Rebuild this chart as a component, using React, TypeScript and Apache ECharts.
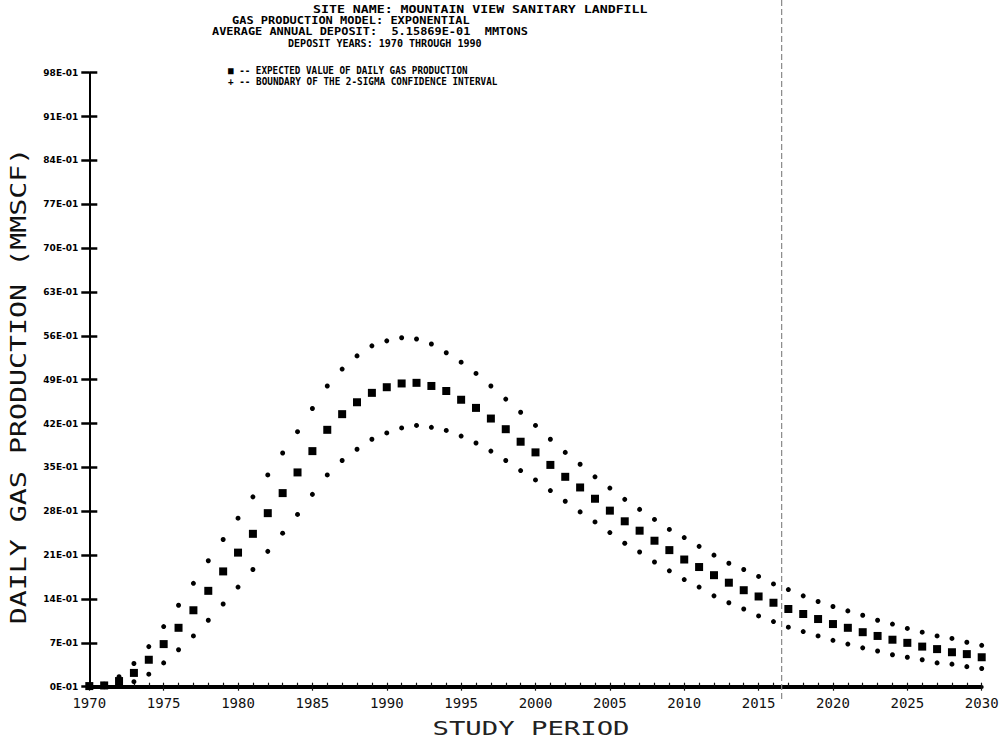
import React, { useEffect, useRef } from "react";
import * as echarts from "echarts";

const years = [
  1970, 1971, 1972, 1973, 1974, 1975, 1976, 1977, 1978, 1979,
  1980, 1981, 1982, 1983, 1984, 1985, 1986, 1987, 1988, 1989,
  1990, 1991, 1992, 1993, 1994, 1995, 1996, 1997, 1998, 1999,
  2000, 2001, 2002, 2003, 2004, 2005, 2006, 2007, 2008, 2009,
  2010, 2011, 2012, 2013, 2014, 2015, 2016, 2017, 2018, 2019,
  2020, 2021, 2022, 2023, 2024, 2025, 2026, 2027, 2028, 2029,
  2030,
];

// values in units of E-01 MMSCF
const expectedValue = [
  0.1, 0.2, 0.9, 2.2, 4.3, 6.8, 9.4, 12.2, 15.3, 18.4,
  21.4, 24.4, 27.7, 30.9, 34.2, 37.6, 41.0, 43.5, 45.4, 46.9,
  47.8, 48.4, 48.5, 48.0, 47.2, 45.8, 44.5, 42.8, 41.1, 39.1,
  37.4, 35.4, 33.5, 31.8, 30.0, 28.1, 26.4, 24.9, 23.3, 21.8,
  20.3, 19.1, 17.8, 16.6, 15.4, 14.4, 13.4, 12.4, 11.6, 10.8,
  10.0, 9.4, 8.7, 8.1, 7.5, 7.0, 6.4, 6.0, 5.5, 5.2,
  4.7,
];

const upperBound = [
  0.2, 0.4, 1.6, 3.7, 6.4, 9.6, 13.0, 16.5, 20.1, 23.5,
  26.9, 30.3, 33.8, 37.3, 40.7, 44.4, 48.0, 50.7, 52.8, 54.4,
  55.2, 55.7, 55.5, 54.7, 53.3, 51.8, 50.0, 48.0, 45.9, 43.8,
  41.7, 39.5, 37.4, 35.5, 33.5, 31.7, 29.9, 28.3, 26.7, 25.1,
  23.8, 22.4, 21.0, 19.7, 18.7, 17.6, 16.4, 15.5, 14.5, 13.6,
  12.8, 12.1, 11.4, 10.6, 10.0, 9.3, 8.7, 8.1, 7.7, 7.1,
  6.6,
];

const lowerBound = [
  0.0, 0.0, 0.2, 0.8, 2.0, 3.8, 5.9, 8.1, 10.6, 13.2,
  15.9, 18.7, 21.6, 24.5, 27.5, 30.7, 33.8, 36.1, 37.9, 39.5,
  40.5, 41.3, 41.7, 41.4, 40.9, 40.0, 38.9, 37.6, 36.1, 34.5,
  33.0, 31.3, 29.6, 27.9, 26.3, 24.6, 22.9, 21.5, 19.9, 18.5,
  17.1, 15.9, 14.5, 13.4, 12.4, 11.3, 10.4, 9.5, 8.8, 8.1,
  7.4, 6.8, 6.2, 5.7, 5.1, 4.7, 4.3, 3.8, 3.6, 3.2,
  2.9,
];

const titleLines = [
  "SITE NAME: MOUNTAIN VIEW SANITARY LANDFILL",
  "GAS PRODUCTION MODEL: EXPONENTIAL",
  "AVERAGE ANNUAL DEPOSIT:  5.15869E-01  MMTONS",
  "DEPOSIT YEARS: 1970 THROUGH 1990",
];
const legendLines = [
  "\u25A0 -- EXPECTED VALUE OF DAILY GAS PRODUCTION",
  "+ -- BOUNDARY OF THE 2-SIGMA CONFIDENCE INTERVAL",
];
const yAxisTitle = "DAILY GAS PRODUCTION (MMSCF)";
const xAxisTitle = "STUDY PERIOD";
const scanLineYear = 2016.55;

const MONO = "'DejaVu Sans Mono', 'Liberation Mono', monospace";

export default function App() {
  const ref = useRef<HTMLDivElement>(null);

  useEffect(() => {
    if (!ref.current) return;
    const chart = echarts.init(ref.current, undefined, { renderer: "svg" });

    const toPairs = (arr: number[]) => years.map((y, i) => [y, arr[i]]);

    // layout of the header block: [left, top, width]
    const titleLayout = [
      [313, 5, 335],
      [232, 16, 238],
      [212, 27, 316],
      [288, 38, 194],
    ];
    const legendLayout = [
      [228, 65, 240],
      [228, 76, 270],
    ];
    const hdrFont = 10;
    const charW = 0.602 * hdrFont;

    const headerText = (text: string, lay: number[]) => ({
      type: "text",
      x: lay[0],
      y: lay[1],
      scaleX: lay[2] / (text.length * charW),
      style: {
        text,
        fill: "#000",
        font: `bold ${hdrFont}px ${MONO}`,
        textAlign: "left",
        textVerticalAlign: "top",
      },
    });

    const graphics: any[] = [
      ...titleLines.map((t, i) => headerText(t, titleLayout[i])),
      ...legendLines.map((t, i) => headerText(t, legendLayout[i])),
      {
        type: "text",
        x: 18,
        y: 386,
        rotation: Math.PI / 2,
        scaleX: 477 / (yAxisTitle.length * 0.602 * 22),
        style: {
          text: yAxisTitle,
          fill: "#111",
          font: `22px ${MONO}`,
          textAlign: "center",
          textVerticalAlign: "middle",
        },
      },
      {
        type: "text",
        x: 531,
        y: 728,
        scaleX: 197 / (xAxisTitle.length * 0.602 * 20),
        style: {
          text: xAxisTitle,
          fill: "#222",
          font: `20px ${MONO}`,
          textAlign: "center",
          textVerticalAlign: "middle",
        },
      },
    ];

    const axisCommon = {
      type: "value",
      min: 1970,
      max: 2030,
      interval: 1,
      splitLine: { show: false },
    };

    chart.setOption({
      animation: false,
      backgroundColor: "#ffffff",
      grid: { left: 89.3, right: 21.3, top: 72.7, bottom: 64.3, containLabel: false },
      xAxis: [
        {
          ...axisCommon,
          position: "bottom",
          axisLine: { show: true, lineStyle: { color: "#000", width: 4 } },
          axisTick: { show: true, inside: true, length: 4, lineStyle: { color: "#111", width: 1.2 } },
          axisLabel: {
            margin: 9,
            color: "#111",
            fontFamily: MONO,
            fontSize: 14,
            formatter: (v: number) => (v % 5 === 0 ? String(v) : ""),
          },
        },
        {
          ...axisCommon,
          interval: 5,
          position: "bottom",
          axisLine: { show: false },
          axisTick: { show: true, inside: false, length: 4, lineStyle: { color: "#111", width: 1.2 } },
          axisLabel: { show: false },
        },
      ],
      yAxis: [
        {
          type: "value",
          min: 0,
          max: 98,
          interval: 7,
          position: "left",
          splitLine: { show: false },
          axisLine: { show: true, lineStyle: { color: "#000", width: 2 } },
          axisTick: { show: true, inside: false, length: 8, lineStyle: { color: "#000", width: 2.5 } },
          axisLabel: {
            margin: 11,
            color: "#000",
            fontFamily: "'DejaVu Sans', sans-serif",
            fontWeight: "bold",
            fontSize: 9,
            formatter: (v: number) => `${v}E-01`,
          },
        },
        {
          type: "value",
          min: 0,
          max: 98,
          interval: 7,
          position: "left",
          splitLine: { show: false },
          axisLine: { show: false },
          axisTick: { show: true, inside: true, length: 8, lineStyle: { color: "#000", width: 2.5 } },
          axisLabel: { show: false },
        },
      ],
      series: [
        {
          name: "Expected value",
          type: "scatter",
          xAxisIndex: 0,
          yAxisIndex: 0,
          symbol: "rect",
          symbolSize: 8,
          itemStyle: { color: "#000", opacity: 1 },
          data: toPairs(expectedValue),
          z: 5,
        },
        {
          name: "Upper 2-sigma",
          type: "scatter",
          xAxisIndex: 0,
          yAxisIndex: 0,
          symbol: "circle",
          symbolSize: 5,
          itemStyle: { color: "#000", opacity: 1 },
          data: toPairs(upperBound),
          z: 5,
        },
        {
          name: "Lower 2-sigma",
          type: "scatter",
          xAxisIndex: 0,
          yAxisIndex: 0,
          symbol: "circle",
          symbolSize: 5,
          itemStyle: { color: "#000", opacity: 1 },
          data: toPairs(lowerBound),
          z: 5,
        },
      ],
      graphic: graphics,
    });

    const sx = chart.convertToPixel({ xAxisIndex: 0 }, scanLineYear) as number;
    chart.setOption({
      graphic: [
        ...graphics,
        {
          type: "line",
          shape: { x1: sx, y1: 0, x2: sx, y2: 700 },
          style: { stroke: "#888", lineWidth: 1.2, lineDash: [6, 3] },
          z: 1,
        },
      ],
    });

    return () => chart.dispose();
  }, []);

  return (
    <div
      ref={ref}
      style={{ position: "absolute", left: 0, top: 0, width: 1003, height: 751, background: "#fff" }}
    />
  );
}
